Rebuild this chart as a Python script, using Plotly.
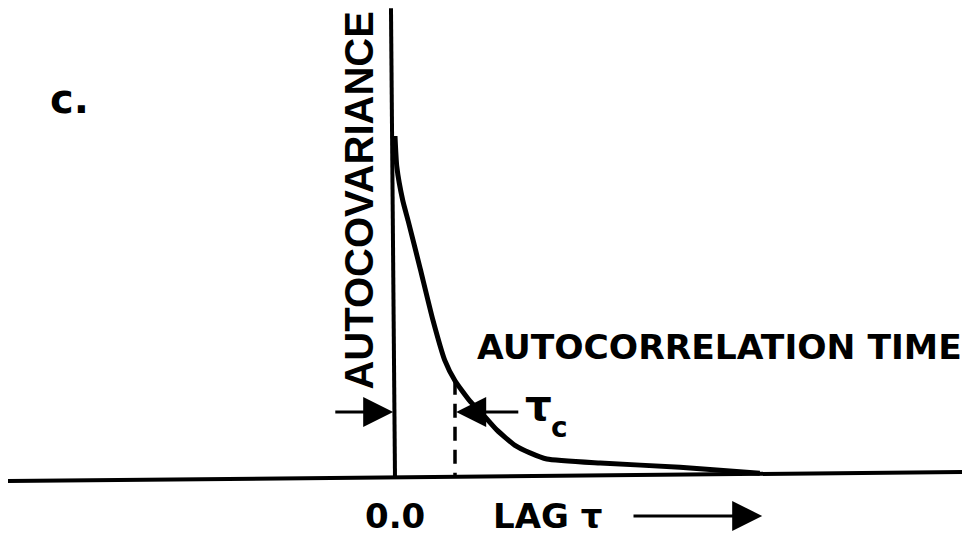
import plotly.graph_objects as go

# Autocovariance curve (lag in units of tau_c, value normalised to 1 at lag 0)
lag = [0.0, 0.03, 0.13, 0.22, 0.42, 0.63, 0.83, 1.0, 1.25, 1.42, 1.7, 2.0, 2.25, 2.53, 3.42, 4.75, 6.08]
acov = [1.0, 0.91, 0.81, 0.75, 0.61, 0.46, 0.34, 0.28, 0.22, 0.19, 0.135, 0.09, 0.068, 0.05, 0.038, 0.026, 0.008]

tau_c = 1.0
tau_c_level = 0.188
panel_label = "c."
y_title = "AUTOCOVARIANCE"
tau_title = "AUTOCORRELATION TIME"
x_label = "LAG τ"
zero_label = "0.0"

BOLD = "DejaVu Sans"
INK = "#000000"

fig = go.Figure()

# the curve
fig.add_trace(go.Scatter(x=lag, y=acov, mode="lines",
                         line=dict(color=INK, width=5, shape="spline", smoothing=0.5),
                         hoverinfo="skip", showlegend=False))

shapes = [
    # horizontal axis (slightly tilted as in the print)
    dict(type="line", xref="x", yref="y", x0=-6.45, y0=-0.0147, x1=9.45, y1=0.0118,
         line=dict(color=INK, width=4)),
    # vertical axis
    dict(type="line", xref="x", yref="y", x0=-0.067, y0=1.376, x1=0.0, y1=-0.005,
         line=dict(color=INK, width=4)),
    # dashed marker at tau_c
    dict(type="line", xref="x", yref="y", x0=tau_c, y0=0.28, x1=tau_c, y1=0.0,
         line=dict(color=INK, width=3.5, dash="14px,9px")),
]

annotations = [
    # arrows bracketing tau_c
    dict(x=-0.03, y=tau_c_level, ax=-1.02, ay=tau_c_level, xref="x", yref="y",
         axref="x", ayref="y", text="", showarrow=True, arrowhead=2,
         arrowsize=2.0, arrowwidth=3, arrowcolor=INK),
    dict(x=tau_c + 0.02, y=tau_c_level, ax=2.08, ay=tau_c_level, xref="x", yref="y",
         axref="x", ayref="y", text="", showarrow=True, arrowhead=2,
         arrowsize=2.0, arrowwidth=3, arrowcolor=INK),
    # lag arrow
    dict(x=6.12, y=-0.1176, ax=3.95, ay=-0.1176, xref="x", yref="y",
         axref="x", ayref="y", text="", showarrow=True, arrowhead=2,
         arrowsize=2.0, arrowwidth=3, arrowcolor=INK),
    # texts
    dict(x=-0.6, y=0.81, xref="x", yref="y", text=f"<b>{y_title}</b>", textangle=-90,
         showarrow=False, font=dict(family="Liberation Sans", size=40, color=INK),
         xanchor="center", yanchor="middle"),
    dict(x=1.33, y=0.38, xref="x", yref="y", text=f"<b>{tau_title}</b>",
         showarrow=False, font=dict(family=BOLD, size=34.5, color=INK),
         xanchor="left", yanchor="middle"),
    dict(x=2.13, y=tau_c_level + 0.02, xref="x", yref="y", text="<b>τ</b>",
         showarrow=False, font=dict(family=BOLD, size=42, color=INK),
         xanchor="left", yanchor="middle"),
    dict(x=2.57, y=tau_c_level - 0.045, xref="x", yref="y", text="<b>c</b>",
         showarrow=False, font=dict(family=BOLD, size=28, color=INK),
         xanchor="left", yanchor="middle"),
    dict(x=0.0, y=-0.1176, xref="x", yref="y", text=f"<b>{zero_label}</b>",
         showarrow=False, font=dict(family=BOLD, size=34, color=INK),
         xanchor="center", yanchor="middle"),
    dict(x=1.6, y=-0.1176, xref="x", yref="y", text=f"<b>{x_label}</b>",
         showarrow=False, font=dict(family=BOLD, size=34, color=INK),
         xanchor="left", yanchor="middle"),
    dict(x=-5.43, y=1.11, xref="x", yref="y", text=f"<b>{panel_label}</b>",
         showarrow=False, font=dict(family=BOLD, size=40, color=INK),
         xanchor="center", yanchor="middle"),
]

fig.update_layout(
    width=976, height=538,
    margin=dict(l=0, r=0, t=0, b=0),
    paper_bgcolor="white", plot_bgcolor="white",
    xaxis=dict(range=[-395 / 60, (976 - 395) / 60], visible=False, fixedrange=True),
    yaxis=dict(range=[-62 / 340, 476 / 340], visible=False, fixedrange=True),
    shapes=shapes,
    annotations=annotations,
    showlegend=False,
)

fig.write_html(
    "out.html",
    config={"displayModeBar": False},
    post_script="document.body.style.margin='0';document.body.style.overflow='hidden';",
)
